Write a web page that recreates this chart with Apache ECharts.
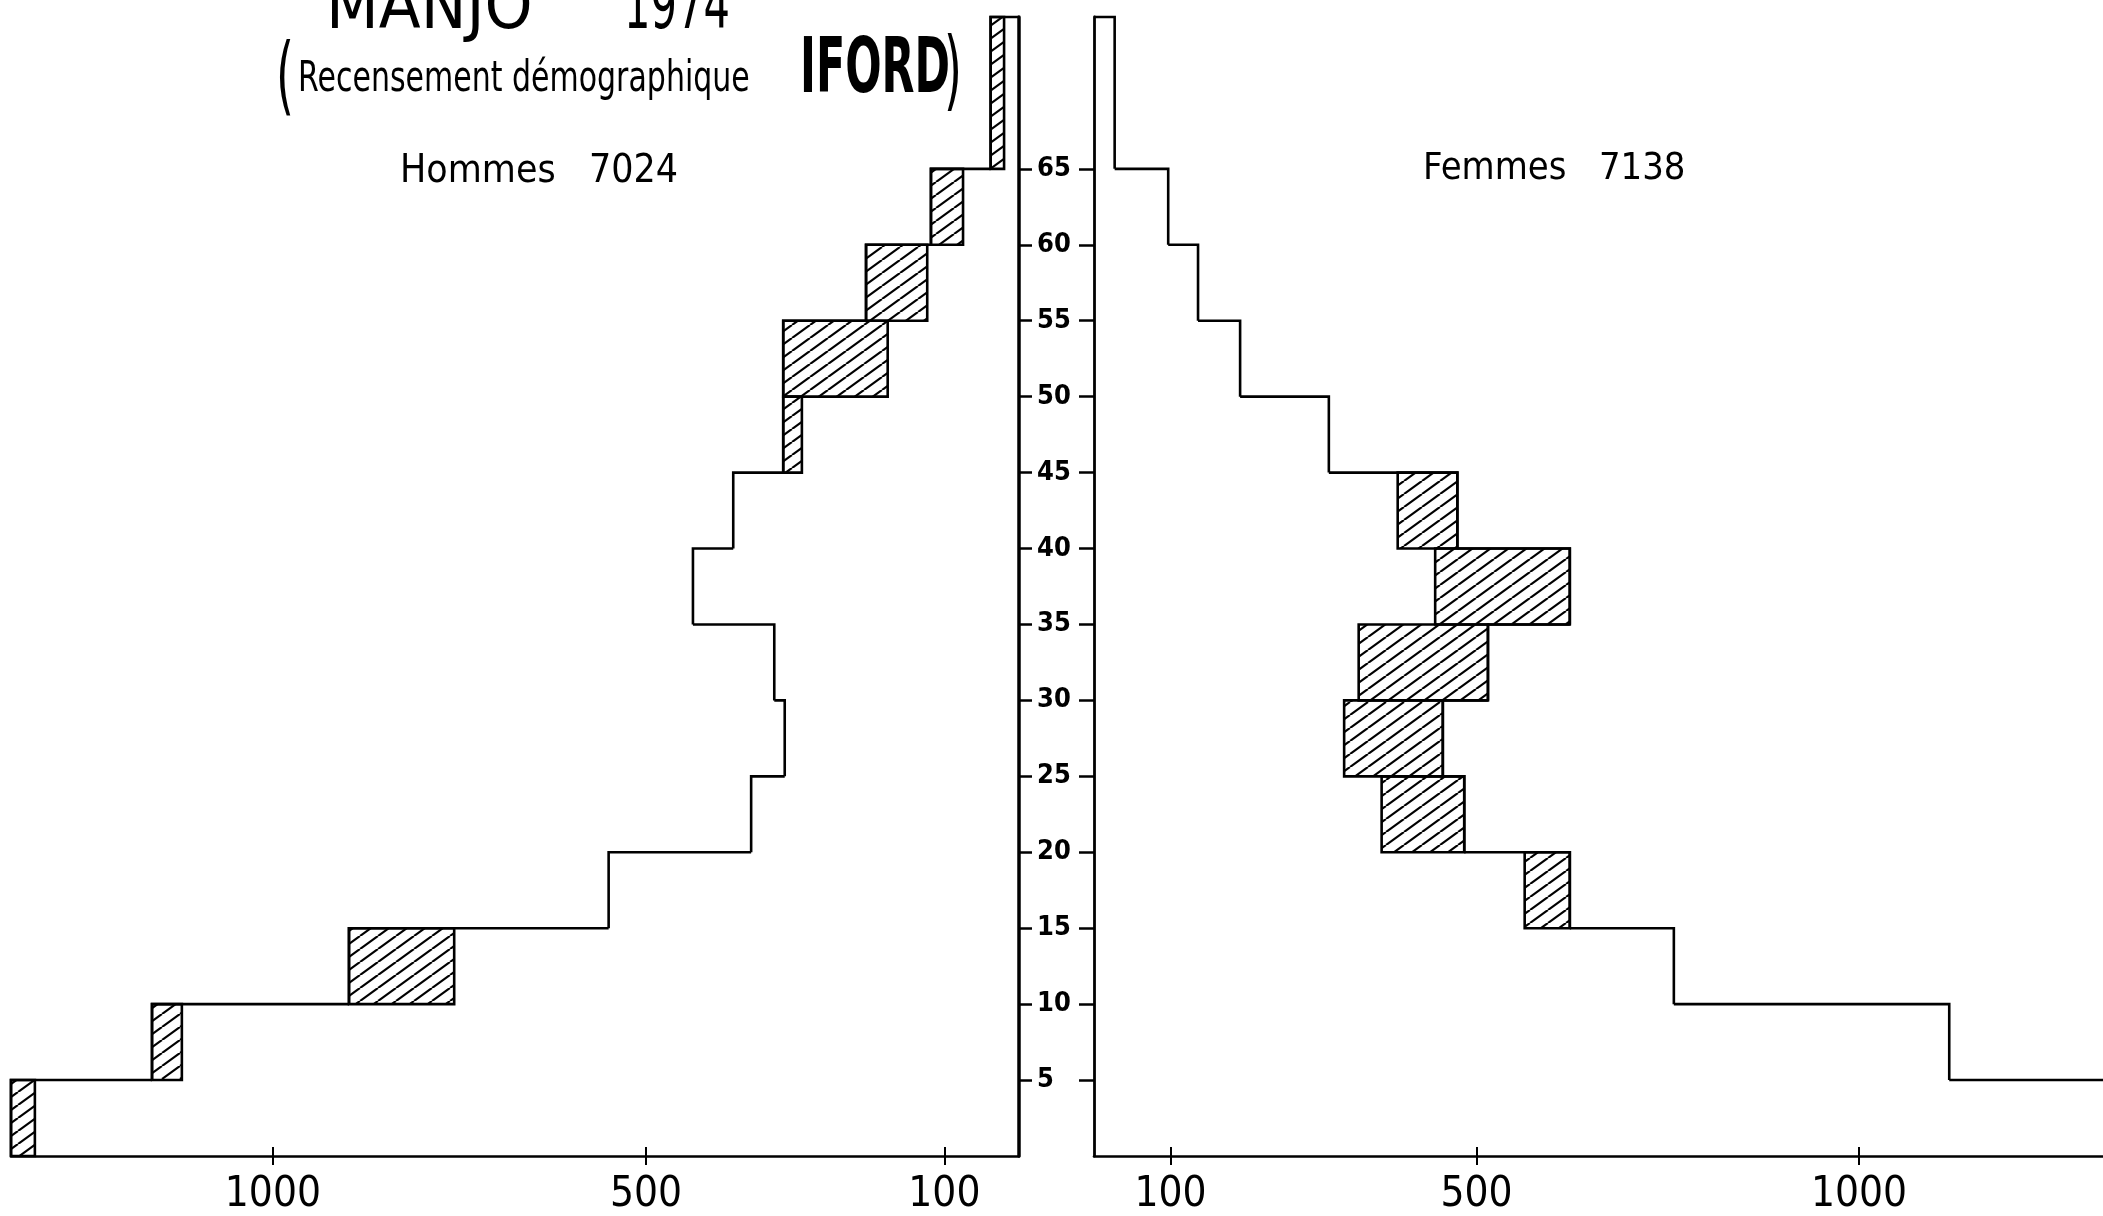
<!DOCTYPE html>
<html>
<head>
<meta charset="utf-8">
<title>Manjo 1974</title>
<script src="https://cdn.jsdelivr.net/npm/echarts@6/dist/echarts.min.js"></script>
<style>
html,body{margin:0;padding:0;background:#fff;}
#chartDom{width:2103px;height:1216px;}
</style>
</head>
<body>
<div id="chartDom"></div>
<script>
// groupes d'âges
var ageStart = [0, 5, 10, 15, 20, 25, 30, 35, 40, 45, 50, 55, 60, 65];
var ageEnd   = [5, 10, 15, 20, 25, 30, 35, 40, 45, 50, 55, 60, 65, 75];
var ageTicks = [5, 10, 15, 20, 25, 30, 35, 40, 45, 50, 55, 60, 65];

// Hommes : partie blanche, et total (blanc + hachuré)
var hommesBlanc = [1319, 1122, 757, 550, 359, 314, 328, 437, 383, 291, 176, 123, 75, 20];
var hommesTotal = [1351, 1162, 898, 550, 359, 314, 328, 437, 383, 316, 316, 205, 118, 38];
// Femmes
var femmesBlanc = [1400, 1118, 758, 563, 376, 327, 346, 446, 397, 307, 191, 136, 97, 27];
var femmesTotal = [1400, 1118, 758, 622, 484, 456, 515, 622, 475, 307, 191, 136, 97, 27];

var effectifTicks = [100, 500, 1000];

var narrow = "'Liberation Sans Narrow', 'DejaVu Sans Condensed', 'Roboto Condensed', sans-serif";

// motif hachuré ////
function makeHatch() {
  var w = 18, h = 13;
  var c = document.createElement('canvas');
  c.width = w; c.height = h;
  var ctx = c.getContext('2d');
  ctx.strokeStyle = '#000';
  ctx.lineWidth = 2.2;
  for (var i = -1; i <= 1; i++) {
    ctx.beginPath();
    ctx.moveTo(i * w, h);
    ctx.lineTo(i * w + w, 0);
    ctx.stroke();
  }
  return c;
}
var hatch = makeHatch();

function buildRows(blanc, total) {
  var rows = [];
  for (var i = 0; i < ageStart.length; i++) {
    var next = i + 1 < total.length ? total[i + 1] : 0;
    rows.push([ageStart[i], ageEnd[i], blanc[i], total[i], next]);
  }
  return rows;
}

function renderPyramide(params, api) {
  var a0 = api.value(0), a1 = api.value(1);
  var blanc = api.value(2), total = api.value(3), suivant = api.value(4);
  var p0 = api.coord([total, a0]);
  var p1 = api.coord([total, a1]);
  var p2 = api.coord([suivant, a1]);
  var children = [];
  if (total > blanc) {
    var q0 = api.coord([blanc, a0]);
    children.push({
      type: 'rect',
      shape: {
        x: Math.min(q0[0], p1[0]), y: p1[1],
        width: Math.abs(p1[0] - q0[0]), height: q0[1] - p1[1]
      },
      style: {fill: {image: hatch, repeat: 'repeat'}, stroke: '#000', lineWidth: 2.6}
    });
  }
  children.push({
    type: 'polyline',
    shape: {points: [p0, p1, p2]},
    style: {fill: null, stroke: '#000', lineWidth: 2.6}
  });
  return {type: 'group', children: children};
}

function xAxe(grid, max, inverse) {
  return {
    gridIndex: grid, type: 'value', position: 'bottom',
    min: 0, max: max, inverse: inverse,
    splitLine: {show: false},
    axisLine: {onZero: false, lineStyle: {color: '#000', width: 2.6}},
    axisTick: {customValues: effectifTicks, length: 9, lineStyle: {color: '#000', width: 2}},
    axisLabel: {customValues: effectifTicks, margin: 18, color: '#000', fontSize: 42, fontFamily: narrow,
      formatter: function (v) { return String(v); }}
  };
}
function xAxeInterne(grid, max, inverse) {
  return {
    gridIndex: grid, type: 'value', position: 'bottom',
    min: 0, max: max, inverse: inverse,
    splitLine: {show: false},
    axisLine: {show: false},
    axisTick: {customValues: effectifTicks, inside: true, length: 9, lineStyle: {color: '#000', width: 2}},
    axisLabel: {show: false}
  };
}

var chartDom = document.getElementById('chartDom');
var myChart = echarts.init(chartDom);
var option = {
  backgroundColor: '#fff',
  animation: false,
  grid: [
    {left: 11, right: 1084, top: 17, bottom: 60},
    {left: 1094, right: 0, top: 17, bottom: 60}
  ],
  xAxis: [
    xAxe(0, 1351, true),
    xAxe(1, 1319, false),
    xAxeInterne(0, 1351, true),
    xAxeInterne(1, 1319, false)
  ],
  yAxis: [
    {
      gridIndex: 0, type: 'value', position: 'right', min: 0, max: 75,
      splitLine: {show: false},
      axisLine: {onZero: false, lineStyle: {color: '#000', width: 3.5}},
      axisTick: {customValues: ageTicks, length: 13, lineStyle: {color: '#000', width: 2.5}},
      axisLabel: {customValues: ageTicks, margin: 18, color: '#000', fontSize: 27,
        fontWeight: 'bold', fontFamily: narrow}
    },
    {
      gridIndex: 1, type: 'value', position: 'left', min: 0, max: 75,
      splitLine: {show: false},
      axisLine: {onZero: false, lineStyle: {color: '#000', width: 2.8}},
      axisTick: {customValues: ageTicks, length: 15, lineStyle: {color: '#000', width: 2.5}},
      axisLabel: {show: false}
    }
  ],
  series: [
    {
      name: 'Hommes', type: 'custom', xAxisIndex: 0, yAxisIndex: 0,
      renderItem: renderPyramide, data: buildRows(hommesBlanc, hommesTotal)
    },
    {
      name: 'Femmes', type: 'custom', xAxisIndex: 1, yAxisIndex: 1,
      renderItem: renderPyramide, data: buildRows(femmesBlanc, femmesTotal)
    }
  ],
  graphic: [
    {type: 'text', x: 326, y: 44, style: {text: 'MANJO', fontSize: 68, fontFamily: narrow, fill: '#000', verticalAlign: 'bottom'}},
    {type: 'text', x: 624, y: 44, scaleX: 0.68, style: {text: '1974', fontSize: 68, fontFamily: narrow, fill: '#000', verticalAlign: 'bottom'}},
    {type: 'text', x: 276, y: 82, scaleY: 1.85, style: {text: '(', fontSize: 46, fontFamily: 'DejaVu Sans', fill: '#000', verticalAlign: 'middle'}},
    {type: 'text', x: 298, y: 80, scaleY: 1.4, style: {text: 'Recensement démographique', fontSize: 30, fontFamily: 'DejaVu Sans', fill: '#000', verticalAlign: 'middle'}},
    {type: 'text', x: 800, y: 72, scaleX: 0.85, scaleY: 1.37, style: {text: 'IFORD', fontSize: 56, fontWeight: 'bold', fontFamily: narrow, fill: '#000', verticalAlign: 'middle'}},
    {type: 'text', x: 944, y: 76, scaleY: 1.9, style: {text: ')', fontSize: 46, fontFamily: 'DejaVu Sans', fill: '#000', verticalAlign: 'middle'}},
    {type: 'text', x: 400, y: 172, scaleY: 1.1, style: {text: 'Hommes   7024', fontSize: 35, fontFamily: 'DejaVu Sans', fill: '#000', verticalAlign: 'middle'}},
    {type: 'text', x: 1423, y: 169, scaleY: 1.1, style: {text: 'Femmes   7138', fontSize: 34, fontFamily: 'DejaVu Sans', fill: '#000', verticalAlign: 'middle'}}
  ]
};
option && myChart.setOption(option);
</script>
</body>
</html>
